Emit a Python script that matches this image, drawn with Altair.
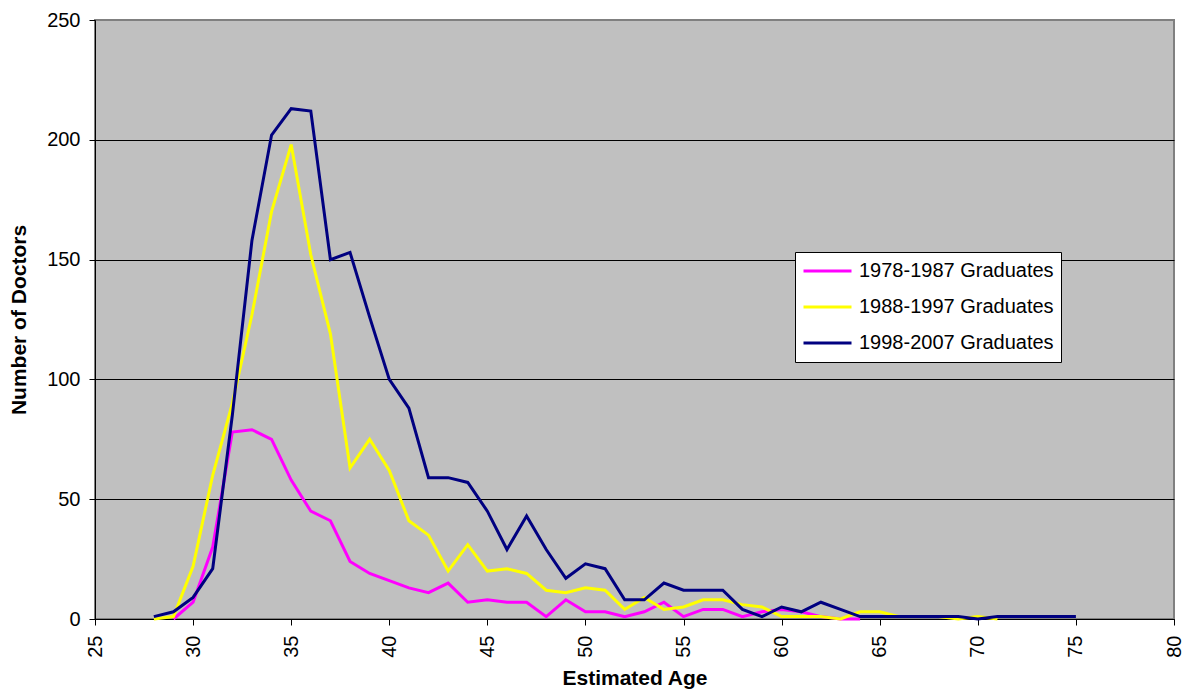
import altair as alt
import pandas as pd

series_names = ["1978-1987 Graduates", "1988-1997 Graduates", "1998-2007 Graduates"]
series_colors = ["#FF00FF", "#FFFF00", "#000080"]

ages_1978 = list(range(29, 65))
counts_1978 = [0, 7, 30, 78, 79, 75, 58, 45, 41, 24, 19, 16, 13, 11, 15, 7, 8, 7, 7, 1,
               8, 3, 3, 1, 3, 7, 1, 4, 4, 1, 3, 4, 3, 1, 0, 0]

ages_1988 = list(range(28, 72))
counts_1988 = [0, 1, 22, 60, 90, 127, 170, 198, 152, 119, 63, 75, 62, 41, 35, 20, 31, 20, 21, 19,
               12, 11, 13, 12, 4, 9, 4, 5, 8, 8, 6, 5, 1, 1, 1, 0, 3, 3, 1, 1, 1, 0, 1, 0]

ages_1998 = list(range(28, 76))
counts_1998 = [1, 3, 9, 21, 85, 158, 202, 213, 212, 150, 153, 126, 100, 88, 59, 59, 57, 45, 29, 43,
               29, 17, 23, 21, 8, 8, 15, 12, 12, 12, 4, 1, 5, 3, 7, 4, 1, 1, 1, 1,
               1, 1, 0, 1, 1, 1, 1, 1]

x_ticks = list(range(25, 81, 5))
y_ticks = [0, 50, 100, 150, 200, 250]

rows = []
for name, ages, counts in zip(series_names,
                              [ages_1978, ages_1988, ages_1998],
                              [counts_1978, counts_1988, counts_1998]):
    for a, c in zip(ages, counts):
        rows.append({"series": name, "age": a, "count": c})
df = pd.DataFrame(rows)

FONT = "Liberation Sans"

chart = alt.Chart(df).mark_line(strokeWidth=3, strokeJoin="miter").encode(
    x=alt.X("age:Q",
            scale=alt.Scale(domain=[25, 80], nice=False, zero=False),
            axis=alt.Axis(values=x_ticks, title="Estimated Age", grid=False,
                          labelAngle=270, labelFontSize=20, labelColor="black",
                          labelPadding=10, tickSize=6, tickColor="black",
                          domainColor="black", domainWidth=1,
                          titleFontSize=21, titleFontWeight="bold", titleColor="black",
                          titlePadding=10, labelFont=FONT, titleFont=FONT)),
    y=alt.Y("count:Q",
            scale=alt.Scale(domain=[0, 250], nice=False),
            axis=alt.Axis(values=y_ticks, title="Number of Doctors", grid=True,
                          gridColor={"condition": {"test": "datum.value === 250", "value": "#808080"},
                                     "value": "black"},
                          gridWidth=1,
                          labelFontSize=20, labelColor="black", labelPadding=9,
                          tickSize=6, tickColor="black", domainColor="black", domainWidth=1,
                          titleFontSize=21, titleFontWeight="bold", titleColor="black",
                          titlePadding=17, labelFont=FONT, titleFont=FONT)),
    color=alt.Color("series:N", title=None,
                    scale=alt.Scale(domain=series_names, range=series_colors),
                    legend=alt.Legend(orient="none", legendX=700, legendY=232,
                                      fillColor="white", strokeColor="black",
                                      padding=7, labelFontSize=20, labelFont=FONT,
                                      labelColor="black", labelLimit=400,
                                      symbolType="stroke", symbolSize=2304,
                                      symbolStrokeWidth=3, labelOffset=6,
                                      clipHeight=24, rowPadding=12)),
).properties(
    width=1079, height=599,
    autosize=alt.AutoSizeParams(type="none"),
    padding={"left": 95, "top": 20, "right": 11, "bottom": 74},
    background="white",
).configure_view(
    fill="#C0C0C0", stroke="#808080", strokeWidth=2
)

chart.save("out.html", embed_options={"renderer": "svg", "actions": False})
